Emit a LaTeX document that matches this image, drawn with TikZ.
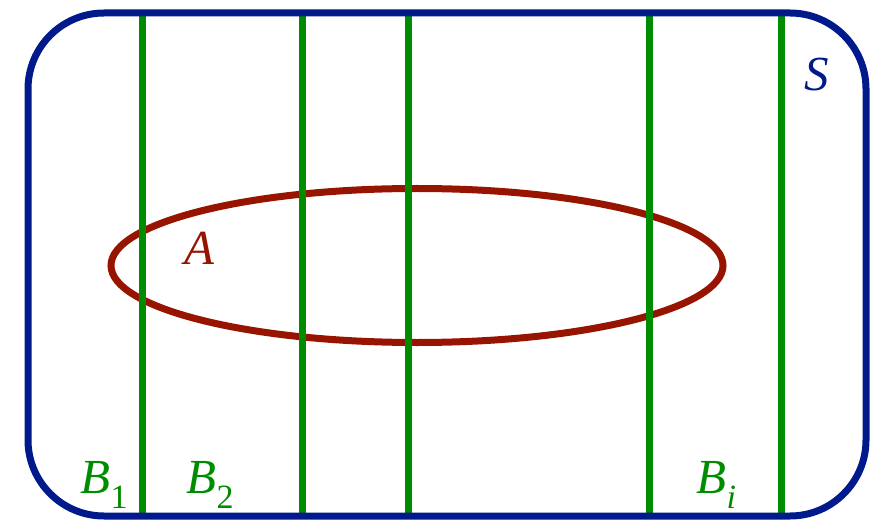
\documentclass[tikz,border=0pt]{standalone}
\usepackage{fontspec}
\setmainfont{Liberation Serif}
\definecolor{sblue}{RGB}{0,26,140}
\definecolor{bgreen}{RGB}{0,140,0}
\definecolor{ared}{RGB}{150,20,0}
\newcommand{\Bsub}[1]{\textit{B}\kern0.5pt\raisebox{-0.32em}{\fontsize{34}{34}\selectfont #1}}
\begin{document}
\begin{tikzpicture}[x=1pt,y=-1pt,
  frame/.style={draw=sblue,line width=7pt,rounded corners=76pt},
  blines/.style={draw=bgreen,line width=7pt},
  aell/.style={draw=ared,line width=7pt},
  lbl/.style={inner sep=0pt,font=\fontsize{49}{49}\selectfont}]
\useasboundingbox (0,0) rectangle (880,521);
\draw[aell] (417,265.5) ellipse [x radius=306, y radius=77];
\foreach \x/\n in {142/a,302/b,408/c,649/d,781/e}{
  \coordinate (t\n) at (\x,13);
  \coordinate (b\n) at (\x,516);
  \draw[blines] (t\n) -- (b\n);
}
\draw[frame] (28,13) rectangle (866,516);
\node[lbl,text=sblue] (S) at (817,75) {\textit{S}};
\node[lbl,text=ared] (A) at (200,248) {\textit{A}};
\node[lbl,text=bgreen,anchor=base west] (B1) at (80,493) {\Bsub{1}};
\node[lbl,text=bgreen,anchor=base west] (B2) at (186,493) {\Bsub{2}};
\node[lbl,text=bgreen,anchor=base west] (Bi) at (696,493) {\Bsub{\textit{i}}};
\end{tikzpicture}
\end{document}
